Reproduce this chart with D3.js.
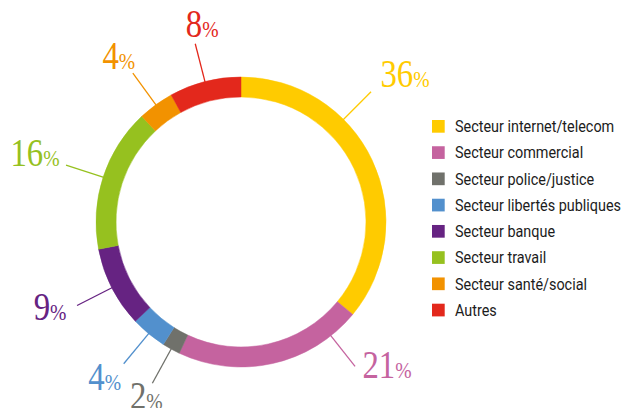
<!DOCTYPE html>
<html>
<head>
<meta charset="utf-8">
<script src="https://cdn.jsdelivr.net/npm/d3@7"></script>
<style>
  body { margin: 0; background: #fff; }
  svg { display: block; }
</style>
</head>
<body>
<div id="chart"></div>
<script>
// chart values, clockwise from the top
var categories = ["Secteur internet/telecom", "Secteur commercial", "Secteur police/justice",
    "Secteur libertés publiques", "Secteur banque", "Secteur travail", "Secteur santé/social", "Autres"];
var values = [36, 21, 2, 4, 9, 16, 4, 8];
var colors = ["#ffcb00", "#c5639f", "#70716b", "#5290cd", "#662382", "#96c11f", "#f29200", "#e3281c"];

// where the leader leaves its slice (0 = start, 1 = end) and label nudge from leader end
var leaderAt = [0.347, 0.16, 0.5, 0.5, 0.5, 0.5, 0.5, 0.5];
var labelNudge = [[34, -18], [32, -2], [-6, 12], [-19, 12.5], [-27, 1], [-31, -13], [-14, -18], [7, -20]];

var svgWidth = 633, svgHeight = 408;
var cx = 241, cy = 222, outerR = 145, innerR = 125, leaderR = 184;

var svg = d3.select("#chart").append("svg")
    .attr("width", svgWidth)
    .attr("height", svgHeight);

var pie = d3.pie().sort(null).value(d => d)(values);
var arc = d3.arc().innerRadius(innerR).outerRadius(outerR);

var donut = svg.append("g").attr("transform", `translate(${cx},${cy})`);

// leader lines first, ring on top
pie.forEach(function(p, i) {
    var a = p.startAngle + (p.endAngle - p.startAngle) * leaderAt[i];
    var x0 = Math.sin(a) * (outerR - 4), y0 = -Math.cos(a) * (outerR - 4);
    var x1 = Math.sin(a) * leaderR, y1 = -Math.cos(a) * leaderR;
    donut.append("line")
        .attr("x1", x0).attr("y1", y0).attr("x2", x1).attr("y2", y1)
        .attr("stroke", colors[i])
        .attr("stroke-width", 1.3);

    // narrow slab-ish numbers: squeeze a serif horizontally
    var t = donut.append("text")
        .attr("transform", `translate(${x1 + labelNudge[i][0]},${y1 + labelNudge[i][1]}) scale(0.82,1)`)
        .attr("dy", "0.34em")
        .attr("text-anchor", "middle")
        .attr("fill", colors[i])
        .style("font-family", "'Liberation Serif', serif")
        .style("font-size", "40px");
    t.append("tspan").text(values[i]);
    t.append("tspan").style("font-size", "24px").text("%");
});

donut.selectAll("path.slice")
    .data(pie)
    .enter().append("path")
    .attr("class", "slice")
    .attr("d", arc)
    .attr("fill", (d, i) => colors[i])
    .attr("stroke", (d, i) => colors[i])
    .attr("stroke-width", 0.5);

// legend
var ly = d3.scalePoint().domain(categories).range([126.3, 310]);
var legend = svg.append("g");
var rows = legend.selectAll("g").data(categories).enter().append("g")
    .attr("transform", d => `translate(432,${ly(d)})`);
rows.append("rect")
    .attr("x", 0).attr("y", -6.3)
    .attr("width", 12.7).attr("height", 12.7)
    .attr("fill", (d, i) => colors[i]);
rows.append("text")
    .attr("transform", "translate(23,5.8) scale(0.9,1)")
    .attr("fill", "#1c1c1c")
    .style("font-family", "Roboto, sans-serif")
    .style("font-size", "16px")
    .text(d => d);
</script>
</body>
</html>
